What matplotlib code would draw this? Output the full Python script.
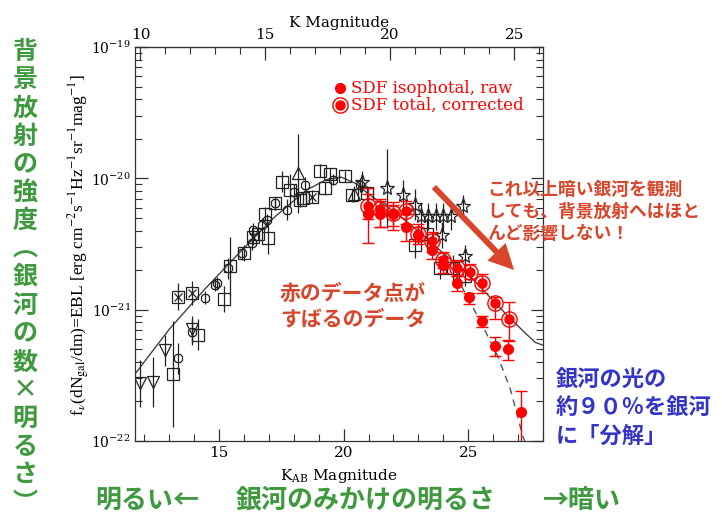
import numpy as np
import matplotlib
matplotlib.use("Agg")
import matplotlib.pyplot as plt
from matplotlib.ticker import MultipleLocator, FixedLocator, NullFormatter

# ---------------- data (magnitudes, log10 of EBL contribution) ----------------
# SDF isophotal, raw (filled red)
raw_m = [20.97, 21.47, 21.99, 22.50, 23.00, 23.54, 24.00, 24.55, 25.05, 25.55, 26.08, 26.60, 27.12]
raw_y = [-20.27, -20.27, -20.27, -20.37, -20.43, -20.545, -20.66, -20.80, -20.90, -21.09, -21.28, -21.30, -21.78]
raw_lo = [0.22, 0.10, 0.12, 0.11, 0.05, 0.07, 0.06, 0.06, 0.06, 0.04, 0.07, 0.08, 0.40]
raw_hi = [0.15, 0.10, 0.07, 0.10, 0.06, 0.06, 0.06, 0.06, 0.03, 0.04, 0.07, 0.07, 0.16]

# SDF total, corrected (circled dot)
tot_m = [20.97, 21.47, 21.99, 22.50, 23.00, 23.54, 24.00, 24.55, 25.08, 25.55, 26.08, 26.62]
tot_y = [-20.21, -20.23, -20.26, -20.25, -20.42, -20.48, -20.62, -20.685, -20.71, -20.80, -20.95, -21.07]
tot_lo = [0.10, 0.14, 0.10, 0.10, 0.08, 0.08, 0.06, 0.06, 0.06, 0.07, 0.12, 0.17]
tot_hi = [0.14, 0.07, 0.08, 0.08, 0.07, 0.07, 0.06, 0.06, 0.06, 0.07, 0.05, 0.13]

# literature counts: open squares
sq_m = [13.14, 13.37, 13.90, 14.17, 15.20, 15.44, 16.00, 16.35, 16.58, 16.98, 16.85, 17.25,
        17.52, 17.85, 18.25, 18.39, 18.72, 19.06, 19.26, 19.46, 20.06, 20.33, 20.93,
        22.87, 23.34, 23.88, 24.41, 24.88]
sq_y = [-21.49, -20.90, -20.875, -21.19, -20.92, -20.67, -20.57, -20.45, -20.42, -20.455, -20.27, -20.19,
        -20.025, -20.09, -20.165, -20.15, -20.14, -19.94, -20.075, -19.97, -19.985, -20.13, -20.115,
        -20.51, -20.42, -20.685, -20.685, -20.74]
sq_e = [0.40, 0.10, 0.09, 0.12, 0.10, 0.22, 0.06, 0.06, 0.05, 0.12, 0.05, 0.05,
        0.08, 0.12, 0.05, 0.05, 0.05, 0.05, 0.05, 0.05, 0.04, 0.05, 0.06,
        0.10, 0.12, 0.08, 0.10, 0.08]
# crossed squares (subset)
xs_m = [13.37, 13.90, 18.72, 16.35]
xs_y = [-20.90, -20.875, -20.14, -20.45]

# open octagons
oc_m = [13.37, 13.90, 14.44, 14.84, 14.90, 15.37, 15.91, 16.31, 16.38, 16.71, 16.92, 17.25,
        17.72, 18.00, 18.45, 19.59, 20.66]
oc_y = [-21.37, -21.17, -20.91, -20.81, -20.80, -20.685, -20.57, -20.495, -20.39, -20.355, -20.32, -20.19,
        -20.24, -20.10, -20.05, -20.01, -20.05]
oc_e = [0.12, 0.10, 0.05, 0.05, 0.05, 0.08, 0.05, 0.05, 0.05, 0.05, 0.05, 0.05,
        0.08, 0.06, 0.06, 0.04, 0.05]

# triangles down / up
td_m = [11.83, 12.36, 12.83, 13.90]
td_y = [-21.56, -21.55, -21.31, -21.15]
td_e = [0.18, 0.19, 0.12, 0.10]
tu_m = [18.18, 20.40]
tu_y = [-19.96, -20.12]
tu_e = [0.30, 0.06]

# stars
st_m = [20.73, 21.73, 22.40, 22.87, 23.10, 23.40, 23.70, 24.00, 24.30, 24.81, 23.94, 24.88]
st_y = [-20.025, -20.075, -20.13, -20.20, -20.29, -20.29, -20.29, -20.29, -20.29, -20.21, -20.43, -20.59]
st_e = [0.08, 0.30, 0.12, 0.12, 0.10, 0.10, 0.10, 0.10, 0.10, 0.08, 0.10, 0.08]

# model curves
mod_m = [11.63, 13.0, 14.4, 15.8, 17.2, 18.5, 19.3, 19.9, 20.5, 21.0, 22.0, 23.0, 24.0, 25.0, 26.0, 26.6, 27.3, 27.7, 28.0]
mod_y = [-21.49, -21.15, -20.85, -20.57, -20.30, -20.09, -20.01, -19.99, -20.04, -20.12, -20.25, -20.40, -20.57, -20.73, -20.93, -21.05, -21.18, -21.25, -21.27]
dash_m = [24.0, 24.5, 25.1, 25.6, 26.2, 26.7, 27.2, 27.27]
dash_y = [-20.57, -20.74, -20.95, -21.13, -21.36, -21.61, -21.97, -22.0]

y_major = [1e-22, 1e-21, 1e-20, 1e-19]

# ---------------- figure ----------------
plt.rcParams["font.family"] = ["DejaVu Serif"]
plt.rcParams["mathtext.fontset"] = "dejavuserif"
JP = ["Noto Sans CJK JP", "DejaVu Sans"]

fig = plt.figure(figsize=(7.22, 5.21), dpi=100)
ax = fig.add_axes([0.187, 0.1536, 0.565, 0.756])
ax.set_yscale("log")


def errs(y, lo, hi):
    y = np.asarray(y, float)
    lo = np.asarray(lo, float)
    hi = np.asarray(hi, float)
    return 10 ** y, [10 ** y - 10 ** (y - lo), 10 ** (y + hi) - 10 ** y]


# model lines
ax.plot(mod_m, 10 ** np.array(mod_y), color="#444444", lw=1.0, zorder=2)
ax.plot(dash_m, 10 ** np.array(dash_y), color="#555555", lw=1.0, ls=(0, (5, 4)), zorder=2)

blk = dict(fmt="none", ecolor="#222222", elinewidth=0.9, capsize=0, zorder=3)
mk = dict(ls="none", mfc="none", mec="#222222", mew=0.9, zorder=4)

for m, y, e, marker, ms in [
    (sq_m, sq_y, sq_e, "s", 9),
    (oc_m, oc_y, oc_e, "8", 7),
    (td_m, td_y, td_e, "v", 9),
    (tu_m, tu_y, tu_e, "^", 9),
    (st_m, st_y, st_e, "*", 11),
]:
    yy, ee = errs(y, e, e)
    ax.errorbar(m, yy, yerr=ee, **blk)
    ax.plot(m, yy, marker=marker, ms=ms, **mk)
ax.plot(xs_m, 10 ** np.array(xs_y), marker="x", ms=6, **mk)

# red SDF points
yy, ee = errs(tot_y, tot_lo, tot_hi)
ax.errorbar(tot_m, yy, yerr=ee, fmt="none", ecolor="red", elinewidth=1.0, capsize=4, capthick=1.0, zorder=5)
ax.plot(tot_m, yy, ls="none", marker="o", ms=11, mfc="none", mec="red", mew=1.0, zorder=6)
ax.plot(tot_m, yy, ls="none", marker="o", ms=6.5, mfc="red", mec="red", zorder=6)
yy, ee = errs(raw_y, raw_lo, raw_hi)
ax.errorbar(raw_m, yy, yerr=ee, fmt="none", ecolor="red", elinewidth=1.0, capsize=4, capthick=1.0, zorder=5)
ax.plot(raw_m, yy, ls="none", marker="o", ms=7, mfc="red", mec="red", zorder=6)

ax.set_xlim(11.63, 28.0)
ax.set_ylim(1e-22, 1e-19)

ax.xaxis.set_major_locator(MultipleLocator(5))
ax.xaxis.set_minor_locator(MultipleLocator(1))
ax.yaxis.set_major_locator(FixedLocator(y_major))
ax.yaxis.set_minor_locator(FixedLocator([d * k for d in y_major[:-1] for k in range(2, 10)]))
ax.yaxis.set_minor_formatter(NullFormatter())
ax.tick_params(which="both", direction="in", right=True, top=False, labelsize=11, color="#333333")
ax.tick_params(axis="y", labelsize=10, pad=3)
ax.tick_params(which="major", length=9, width=0.9)
ax.tick_params(which="minor", length=5, width=0.8)
for s in ax.spines.values():
    s.set_linewidth(0.9)
    s.set_color("#333333")

sec = ax.secondary_xaxis("top", functions=(lambda x: x - 1.85, lambda x: x + 1.85))
sec.xaxis.set_major_locator(MultipleLocator(5))
sec.xaxis.set_minor_locator(MultipleLocator(1))
sec.tick_params(which="both", direction="in", labelsize=11, color="#333333")
sec.tick_params(which="major", length=9, width=0.9)
sec.tick_params(which="minor", length=5, width=0.8)
sec.set_xlabel("K Magnitude", fontsize=11, labelpad=1)

ax.set_xlabel(r"K$_{\mathrm{AB}}$ Magnitude", fontsize=11, labelpad=5)
ylab = ax.set_ylabel(
    r"f$_\nu$(dN$_{\mathrm{gal}}$/dm)=EBL [erg cm$^{-2}$s$^{-1}$Hz$^{-1}$sr$^{-1}$mag$^{-1}$]",
    fontsize=12.5, family="Liberation Serif")
ylab.set_math_fontfamily("stix")
ax.yaxis.set_label_coords(-0.106, 0.497)

# legend (drawn inside the axes)
ax.plot([0.503], [0.895], transform=ax.transAxes, marker="o", ms=7, color="red", ls="none", clip_on=False)
ax.text(0.530, 0.895, "SDF isophotal, raw", transform=ax.transAxes, color="red", fontsize=12, va="center")
ax.plot([0.503], [0.852], transform=ax.transAxes, marker="o", ms=11, mfc="none", mec="red", ls="none")
ax.plot([0.503], [0.852], transform=ax.transAxes, marker="o", ms=6.5, color="red", ls="none")
ax.text(0.530, 0.852, "SDF total, corrected", transform=ax.transAxes, color="red", fontsize=12, va="center")

# ---------------- Japanese annotations ----------------
W, H = 722.0, 521.0
green = "#3f9a3f"
redtxt = "#d8452b"
blue = "#3434c8"

vert = list("背景放射の強度") + ["︵"] + list("銀河の数×明るさ") + ["︶"]
for i, ch in enumerate(vert):
    fig.text(25 / W, 1 - (52 + i * 28.2) / H, ch, family=JP, fontsize=18, fontweight="bold",
             color=green, ha="center", va="center")

fig.text(95 / W, 1 - 500 / H, "明るい←", family=JP, fontsize=18.7, fontweight="bold", color=green, va="center")
fig.text(236 / W, 1 - 500 / H, "銀河のみかけの明るさ", family=JP, fontsize=18.7, fontweight="bold", color=green, va="center")
fig.text(543 / W, 1 - 500 / H, "→暗い", family=JP, fontsize=18.7, fontweight="bold", color=green, va="center")

fig.text(280 / W, 1 - 306 / H, "赤のデータ点が\nすばるのデータ", family=JP, fontsize=15, fontweight="bold",
         color=redtxt, va="center", linespacing=1.3)
fig.text(487 / W, 1 - 212 / H, "これ以上暗い銀河を観測\nしても、背景放射へはほと\nんど影響しない！", family=JP,
         fontsize=12.8, fontweight="bold", color=redtxt, va="center", linespacing=1.32)
fig.text(556 / W, 1 - 408 / H, "銀河の光の\n約９０％を銀河\nに「分解」", family=JP, fontsize=16,
         fontweight="bold", color=blue, va="center", linespacing=1.28)

fig.add_artist(matplotlib.patches.FancyArrowPatch(
    (432 / W, 1 - 185 / H), (516 / W, 1 - 272 / H), transform=fig.transFigure,
    arrowstyle="simple,head_length=1.3,head_width=1.3,tail_width=0.3",
    mutation_scale=14, color=redtxt, lw=0))

fig.savefig("out.png", dpi=100)
